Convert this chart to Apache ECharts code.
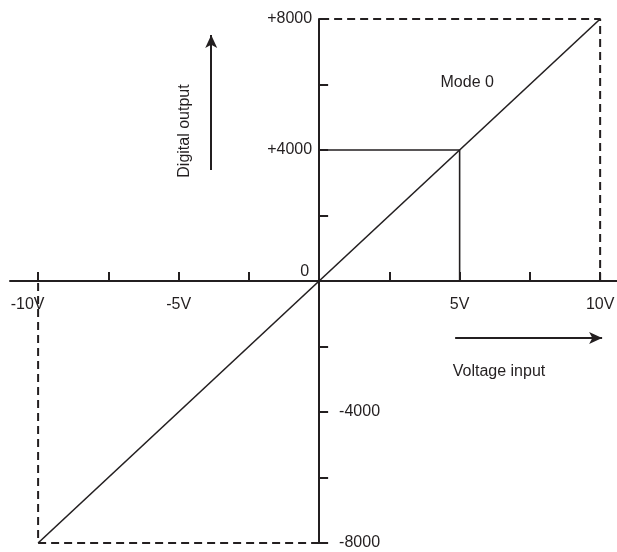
<!DOCTYPE html>
<html>
<head>
<meta charset="utf-8">
<script src="https://cdn.jsdelivr.net/npm/echarts@6/dist/echarts.min.js"></script>
<style>
  html, body { margin: 0; padding: 0; background: #fff; }
  #main { width: 617px; height: 552px; }
</style>
</head>
<body>
<div id="main"></div>
<script>
// data
var voltageIn = [-10, 10];
var digitalOut = [-8000, 8000];
var refPath = [[0, 4000], [5, 4000], [5, 0]];
var boxTop = [[10, 0], [10, 8000], [0, 8000]];
var boxBottom = [[0, -8000], [-10, -8000], [-10, 0]];
var xTicks = [-10, -7.5, -5, -2.5, 2.5, 5, 7.5, 10];
var xLabels = [-10, -5, 5, 10];
var yTicks = [-8000, -6000, -4000, -2000, 2000, 4000, 6000, 8000];
var yLabelsPos = [8000, 4000, 0];
var yLabelsNeg = [-4000, -8000];
var notes = [
  { name: 'Mode 0', value: [5.27, 6045], rotate: 0 },
  { name: 'Digital output', value: [-4.77, 4580], rotate: 90 },
  { name: 'Voltage input', value: [6.4, -2778], rotate: 0 }
];
var arrows = [
  [[-3.84, 3389], [-3.84, 7510]],
  [[4.84, -1740], [10.07, -1740]]
];

var ink = '#231f20';
var font = 'Liberation Sans, Arial, sans-serif';
var fs = 16;
var gridBox = { left: 10, right: 0, top: 19, bottom: 9 };

var myChart = echarts.init(document.getElementById('main'));

var option = {
  animation: false,
  backgroundColor: '#fff',
  textStyle: { fontFamily: font },
  grid: { left: gridBox.left, right: gridBox.right, top: gridBox.top, bottom: gridBox.bottom, containLabel: false, outerBoundsMode: 'none' },
  xAxis: {
    type: 'value',
    position: 'bottom',
    min: -11,
    max: 10.6,
    splitLine: { show: false },
    axisLine: { onZero: false, lineStyle: { color: ink, width: 2 } },
    axisTick: { show: true, inside: true, length: 9, customValues: xTicks, lineStyle: { color: ink, width: 2 } },
    axisLabel: {
      customValues: xLabels,
      margin: 16,
      color: ink,
      fontSize: fs,
      fontFamily: font,
      formatter: function (v) {
        return v === -10 ? '{l|' + v + 'V}' : v + 'V';
      },
      rich: { l: { padding: [0, 21, 0, 0], color: ink, fontSize: fs, fontFamily: font } }
    }
  },
  yAxis: [{
    type: 'value',
    position: 'left',
    min: -8000,
    max: 8000,
    splitLine: { show: false },
    axisLine: { onZero: false, lineStyle: { color: ink, width: 2 } },
    axisTick: { show: true, inside: true, length: 9, customValues: yTicks, lineStyle: { color: ink, width: 2 } },
    axisLabel: {
      customValues: yLabelsPos,
      margin: 7,
      color: ink,
      fontSize: fs,
      fontFamily: font,
      formatter: function (v) {
        return v === 0 ? '{z|0}' : '+' + v;
      },
      rich: { z: { padding: [0, 3, 18, 0], color: ink, fontSize: fs, fontFamily: font } }
    }
  }, {
    type: 'value',
    position: 'left',
    min: -8000,
    max: 8000,
    splitLine: { show: false },
    axisLine: { show: false, onZero: false },
    axisTick: { show: false },
    axisLabel: {
      customValues: yLabelsNeg,
      inside: true,
      margin: 20,
      color: ink,
      fontSize: fs,
      fontFamily: font,
      formatter: function (v) {
        return String(v);
      }
    }
  }],
  series: [{
    type: 'line',
    data: [[voltageIn[0], digitalOut[0]], [voltageIn[1], digitalOut[1]]],
    showSymbol: false,
    lineStyle: { color: ink, width: 1.6 }
  }, {
    type: 'line',
    data: refPath,
    showSymbol: false,
    lineStyle: { color: ink, width: 1.6 }
  }, {
    type: 'line',
    data: boxTop,
    showSymbol: false,
    lineStyle: { color: ink, width: 2, type: [8, 5] }
  }, {
    type: 'line',
    data: boxBottom,
    showSymbol: false,
    lineStyle: { color: ink, width: 2, type: [8, 5] }
  }, {
    type: 'scatter',
    symbolSize: 0,
    itemStyle: { opacity: 1 },
    data: notes.map(function (n) {
      return {
        name: n.name,
        value: n.value,
        label: { rotate: n.rotate }
      };
    }),
    label: {
      show: true,
      position: 'inside',
      formatter: '{b}',
      color: ink,
      opacity: 1,
      fontSize: fs,
      fontFamily: font
    },
    markLine: {
      silent: true,
      symbol: ['none', 'arrow'],
      symbolSize: [9, 13],
      label: { show: false },
      lineStyle: { color: ink, width: 2, type: 'solid', opacity: 1 },
      data: arrows.map(function (a) {
        return [{ coord: a[0] }, { coord: a[1] }];
      })
    }
  }]
};

myChart.setOption(option);

// move the axes so they cross at the origin (labels move with them)
var origin = myChart.convertToPixel({ gridIndex: 0 }, [0, 0]);
var bottomY = 552 - gridBox.bottom;
myChart.setOption({
  xAxis: { offset: -(bottomY - origin[1]) },
  yAxis: [{ offset: -(origin[0] - gridBox.left) }, { offset: -(origin[0] - gridBox.left) }]
});

window.addEventListener('resize', function () {
  myChart.resize();
});
</script>
</body>
</html>
